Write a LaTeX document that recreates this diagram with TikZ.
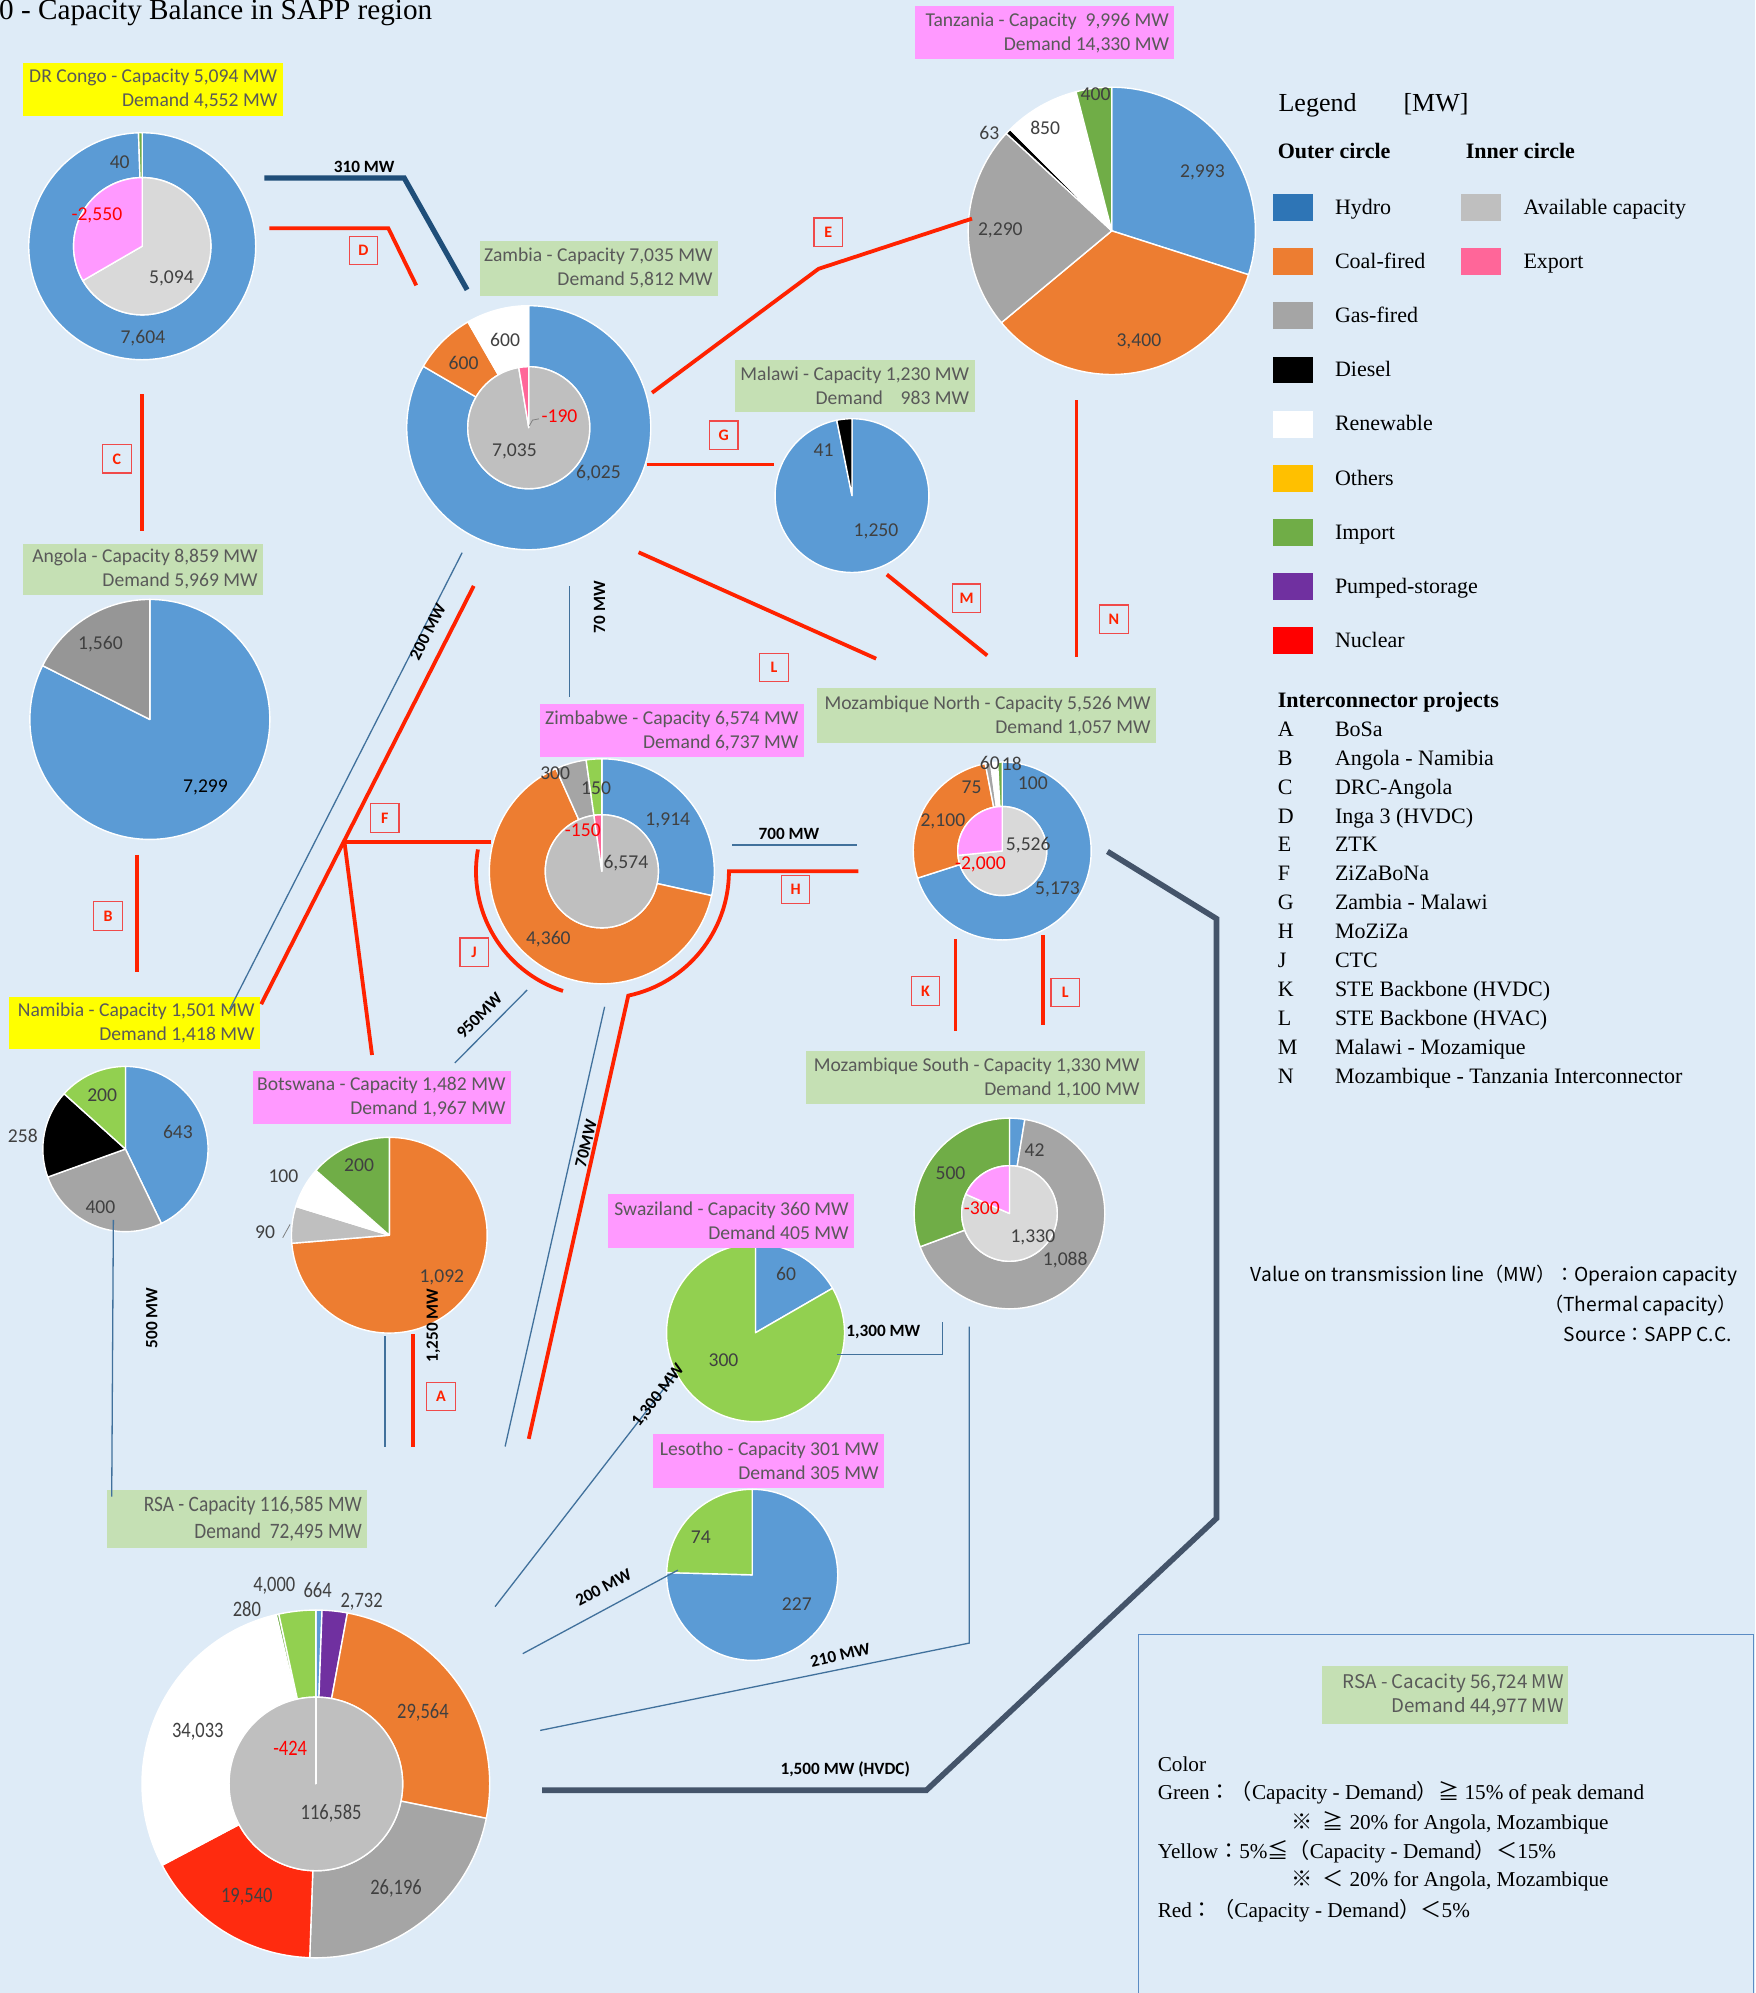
\documentclass[tikz,border=0pt]{standalone}
\usepackage{fontspec}
\setmainfont{Liberation Serif}
\newfontfamily\calib{Carlito}
\newfontfamily\jpf{Noto Sans CJK JP}

\definecolor{bg}{HTML}{DEEBF7}
\definecolor{hydro}{HTML}{5B9BD5}
\definecolor{hydroleg}{HTML}{2E75B6}
\definecolor{coal}{HTML}{ED7D31}
\definecolor{gas}{HTML}{A5A5A5}
\definecolor{gasdark}{HTML}{969696}
\definecolor{avail}{HTML}{BFBFBF}
\definecolor{availlt}{HTML}{D9D9D9}
\definecolor{impdk}{HTML}{70AD47}
\definecolor{implt}{HTML}{92D050}
\definecolor{pumped}{HTML}{7030A0}
\definecolor{nuclear}{HTML}{FF2B0F}
\definecolor{nucleg}{HTML}{FF0000}
\definecolor{others}{HTML}{FFC000}
\definecolor{exppink}{HTML}{FF6699}
\definecolor{expmag}{HTML}{FF99FF}
\definecolor{boxgreen}{HTML}{C5E0B4}
\definecolor{boxpink}{HTML}{FF99FF}
\definecolor{boxyellow}{HTML}{FFFF00}
\definecolor{txtgray}{HTML}{595959}
\definecolor{numgray}{HTML}{404040}
\definecolor{negred}{HTML}{FF0000}
\definecolor{proj}{HTML}{FF2200}
\definecolor{pboxred}{HTML}{F04A4A}
\definecolor{navy}{HTML}{1F4E79}
\definecolor{hvdc}{HTML}{44546A}
\definecolor{thinblue}{HTML}{41719C}
\definecolor{frameblue}{HTML}{5B8BC4}

% ring sector: inner radius, outer radius, start, end (degrees clockwise from 12 o'clock), colour
\newcommand\ringseg[5]{%
  \fill[#5,draw=white,line width=0.7pt,line join=round]
    ({#3-90}:#1) -- ({#3-90}:#2) arc[start angle={#3-90}, end angle={#4-90}, radius=#2]
    -- ({#4-90}:#1) arc[start angle={#4-90}, end angle={#3-90}, radius=#1] -- cycle;}
% pie sector: radius, start, end, colour
\newcommand\pieseg[4]{%
  \fill[#4,draw=white,line width=0.7pt,line join=round]
    (0,0) -- ({#2-90}:#1) arc[start angle={#2-90}, end angle={#3-90}, radius=#1] -- cycle;}
% country caption: name, x1, y1, x2, y2, fill, line 1, line 2 (text set flush right)
\newcommand\cbox[8]{%
  \fill[#6] (#2,#3) rectangle (#4,#5);
  \node[cboxsty] (#1) at ({#4-4},{(#3+#5)/2}) {#7\\#8};}

\begin{document}
\begin{tikzpicture}[x=0.6354pt, y=-0.6354pt,
  num/.style={font=\calib\fontsize{9.8}{10}\selectfont, text=numgray, inner sep=0pt},
  negnum/.style={num, text=negred},
  rnum/.style={font=\calib\fontsize{11}{11}\selectfont, text=numgray, inner sep=0pt, xscale=0.84},
  mw/.style={font=\calib\bfseries\fontsize{8.6}{9}\selectfont, inner sep=0pt},
  pbox/.style={draw=pboxred, line width=0.6pt, text=proj, font=\calib\bfseries\fontsize{8}{8}\selectfont, minimum width=14.2pt, minimum height=14.2pt, inner sep=0pt},
  projline/.style={draw=proj, line width=1.9pt},
  thinline/.style={draw=thinblue, line width=0.65pt},
  hvdcline/.style={draw=hvdc, line width=2.8pt},
  navyline/.style={draw=navy, line width=2.6pt},
  cboxsty/.style={anchor=east, align=right, inner sep=0pt, font=\calib\fontsize{9.8}{12}\selectfont, text=txtgray},
  legtxt/.style={font=\fontsize{11}{13}\selectfont, inner sep=0pt, anchor=base west},
  cnote/.style={font=\fontsize{10.6}{13}\selectfont, inner sep=0pt, anchor=base west},
  vnote/.style={font=\jpf\fontsize{9.6}{12}\selectfont, inner sep=0pt},
]
\useasboundingbox (0,0) rectangle (1381,1568);
\fill[bg] (0,0) rectangle (1381,1568);

% ---------- title ----------
\node[font=\fontsize{14.6}{16}\selectfont, inner sep=0pt, anchor=base west] (title) at (-1,15.5) {0 - Capacity Balance in SAPP region};

% ---------- pie and donut charts ----------
\coordinate (drc) at (111.9,193.7);
\begin{scope}[shift={(drc)}]
  \ringseg{54}{89.3}{0}{358.12}{hydro}
  \ringseg{54}{89.3}{358.12}{360}{impdk}
  \pieseg{54}{0}{239.91}{availlt}
  \pieseg{54}{239.91}{360}{expmag}
\end{scope}

\coordinate (zam) at (416,336.5);
\begin{scope}[shift={(zam)}]
  \ringseg{48}{96}{0}{300.21}{hydro}
  \ringseg{48}{96}{300.21}{330.11}{coal}
  \ringseg{48}{96}{330.11}{360}{white}
  \pieseg{48}{0}{350.53}{avail}
  \pieseg{48}{350.53}{360}{exppink}
\end{scope}

\coordinate (tan) at (874.7,181.6);
\begin{scope}[shift={(tan)}]
  \pieseg{113}{0}{107.79}{hydro}
  \pieseg{113}{107.79}{230.24}{coal}
  \pieseg{113}{230.24}{312.71}{gas}
  \pieseg{113}{312.71}{314.98}{black}
  \pieseg{113}{314.98}{345.59}{white}
  \pieseg{113}{345.59}{360}{impdk}
\end{scope}

\coordinate (mal) at (670.3,389.9);
\begin{scope}[shift={(mal)}]
  \pieseg{60.5}{0}{348.57}{hydro}
  \pieseg{60.5}{348.57}{360}{black}
\end{scope}

\coordinate (ang) at (117.9,566);
\begin{scope}[shift={(ang)}]
  \pieseg{94.4}{0}{296.61}{hydro}
  \pieseg{94.4}{296.61}{360}{gasdark}
\end{scope}

\coordinate (nam) at (98.7,904);
\begin{scope}[shift={(nam)}]
  \pieseg{65}{0}{154.22}{hydro}
  \pieseg{65}{154.22}{250.16}{gas}
  \pieseg{65}{250.16}{312.04}{black}
  \pieseg{65}{312.04}{360}{implt}
\end{scope}

\coordinate (bot) at (306.3,971.8);
\begin{scope}[shift={(bot)}]
  \pieseg{77}{0}{265.26}{coal}
  \pieseg{77}{265.26}{287.12}{avail}
  \pieseg{77}{287.12}{311.42}{white}
  \pieseg{77}{311.42}{360}{impdk}
\end{scope}

\coordinate (zim) at (473.5,685.5);
\begin{scope}[shift={(zim)}]
  \ringseg{44.5}{88.5}{0}{102.48}{hydro}
  \ringseg{44.5}{88.5}{102.48}{335.91}{coal}
  \ringseg{44.5}{88.5}{335.91}{351.97}{gas}
  \ringseg{44.5}{88.5}{351.97}{360}{implt}
  \pieseg{44.5}{0}{351.97}{avail}
  \pieseg{44.5}{351.97}{360}{exppink}
\end{scope}

\coordinate (mzn) at (788.5,669.5);
\begin{scope}[shift={(mzn)}]
  \ringseg{35}{70}{0}{252.23}{hydro}
  \ringseg{35}{70}{252.23}{349}{coal}
  \ringseg{35}{70}{349}{352.5}{gas}
  \ringseg{35}{70}{352.5}{357}{white}
  \ringseg{35}{70}{357}{360}{impdk}
  \pieseg{35}{0}{264.33}{availlt}
  \pieseg{35}{264.33}{360}{expmag}
\end{scope}

\coordinate (mzs) at (794.2,954.7);
\begin{scope}[shift={(mzs)}]
  \ringseg{37.6}{75}{0}{9.28}{hydro}
  \ringseg{37.6}{75}{9.28}{249.57}{gas}
  \ringseg{37.6}{75}{249.57}{360}{impdk}
  \pieseg{37.6}{0}{293.74}{availlt}
  \pieseg{37.6}{293.74}{360}{expmag}
\end{scope}

\coordinate (swa) at (594.4,1048.5);
\begin{scope}[shift={(swa)}]
  \pieseg{70}{0}{60}{hydro}
  \pieseg{70}{60}{360}{implt}
\end{scope}

\coordinate (les) at (591.8,1239);
\begin{scope}[shift={(les)}]
  \pieseg{67.3}{0}{271.5}{hydro}
  \pieseg{67.3}{271.5}{360}{implt}
\end{scope}

\coordinate (rsa) at (248.5,1403.5);
\begin{scope}[shift={(rsa)}]
  \ringseg{68.3}{136.8}{0}{2.04}{hydro}
  \ringseg{68.3}{136.8}{2.04}{10.45}{pumped}
  \ringseg{68.3}{136.8}{10.45}{101.41}{coal}
  \ringseg{68.3}{136.8}{101.41}{182.01}{gas}
  \ringseg{68.3}{136.8}{182.01}{242.13}{nuclear}
  \ringseg{68.3}{136.8}{242.13}{346.84}{white}
  \ringseg{68.3}{136.8}{346.84}{347.7}{impdk}
  \ringseg{68.3}{136.8}{347.7}{360}{implt}
  \pieseg{68.3}{0}{360}{avail}
  \draw[white, line width=0.9pt] (0,0) -- (-90:68.3);
\end{scope}

% ---------- country captions ----------
\cbox{cdrc}{18.3}{49.7}{222.4}{91}{boxyellow}{DR Congo - Capacity 5,094 MW}{Demand 4,552 MW}
\cbox{czam}{377.5}{189.7}{565}{232.5}{boxgreen}{Zambia - Capacity 7,035 MW}{Demand 5,812 MW}
\cbox{ctan}{720}{5}{924}{46.7}{boxpink}{Tanzania - Capacity\ \ 9,996 MW}{Demand 14,330 MW}
\cbox{cmal}{578.4}{283.4}{766.8}{324.3}{boxgreen}{Malawi - Capacity 1,230 MW}{Demand\ \ \ \ 983 MW}
\cbox{cang}{18}{428}{207}{468}{boxgreen}{Angola - Capacity 8,859 MW}{Demand 5,969 MW}
\cbox{czim}{424.6}{554}{632.4}{595.4}{boxpink}{Zimbabwe - Capacity 6,574 MW}{Demand 6,737 MW}
\cbox{cmzn}{643}{541.2}{909.5}{584.6}{boxgreen}{Mozambique North - Capacity 5,526 MW}{Demand 1,057 MW}
\cbox{cnam}{6.8}{784}{204.6}{825.5}{boxyellow}{Namibia - Capacity 1,501 MW}{Demand 1,418 MW}
\cbox{cbot}{198.8}{842.3}{402}{884.5}{boxpink}{Botswana - Capacity 1,482 MW}{Demand 1,967 MW}
\cbox{cmzs}{634.3}{826.9}{900.8}{868.5}{boxgreen}{Mozambique South - Capacity 1,330 MW}{Demand 1,100 MW}
\cbox{cswa}{478.4}{939.2}{672}{981.7}{boxpink}{Swaziland - Capacity 360 MW}{Demand 405 MW}
\cbox{cles}{513.9}{1128.4}{695.6}{1170.5}{boxpink}{Lesotho - Capacity 301 MW}{Demand 305 MW}
\fill[boxgreen] (84.5,1172.5) rectangle (288.5,1218.2);
\node[cboxsty, font=\calib\fontsize{11}{13.5}\selectfont, xscale=0.88] (crsa) at (285,1195.3) {RSA - Capacity 116,585 MW\\Demand\ \ 72,495 MW};

% ---------- interconnector projects (red) ----------
\draw[projline] (212,179.5) -- (305.5,179.5) -- (327.5,224.5);
\draw[projline] (111.7,310) -- (111.7,418);
\draw[projline] (107.5,672.5) -- (107.5,765);
\draw[projline] (372.7,461) -- (205.5,790);
\coordinate (fjoin) at (271,662.4);
\draw[projline] (fjoin) -- (386.2,662.4);
\draw[projline] (fjoin) -- (292.7,830);
\draw[projline] (513,309) -- (644,211.5) -- (764.7,172);
\draw[projline] (508.8,365.4) -- (609,365.4);
\draw[projline] (502.4,434.5) -- (689.3,518.2);
\draw[projline] (697.7,452) -- (776.7,515.7);
\draw[projline] (847,315) -- (847,516.5);
\draw[projline] (675.3,685.5) -- ([shift={(0:100)}]zim) arc[start angle=0, end angle=78, radius=100] -- (416,1132);
\draw[projline] ([shift={(190:99)}]zim) arc[start angle=190, end angle=108, radius=99];
\draw[projline] (751.7,738.8) -- (751.7,811.5);
\draw[projline] (820.4,735.8) -- (820.4,806.4);
\draw[projline] (324.7,1049.6) -- (324.7,1138.2);

% ---------- existing lines ----------
\draw[navyline] (208,140) -- (318,140) -- (367.5,228);
\draw[thinline] (447.8,461) -- (447.8,548);
\draw[thinline] (363.6,434.8) -- (180.7,794);
\draw[thinline] (576,664.9) -- (674,664.9);
\draw[thinline] (414.7,778.9) -- (357.8,836.3);
\draw[thinline] (475.7,792.1) -- (397.4,1138);
\draw[thinline] (89.2,959.7) -- (87.9,1177.5);
\draw[thinline] (303,1051) -- (303,1138.2);
\draw[thinline] (389.5,1264) -- (532,1080);
\draw[thinline] (658.4,1065.9) -- (741.5,1065.9) -- (741.5,1040.2);
\draw[thinline] (411.3,1301) -- (533.3,1235.3);
\draw[thinline] (762.5,1043.8) -- (762.5,1292.7) -- (425,1361.4);
\draw[hvdcline] (871.3,669.9) -- (957.1,722.8) -- (957.1,1194.5) -- (728.8,1408.5) -- (426.6,1408.5);

% ---------- project letters ----------
\node[pbox] (pC) at (92,361) {C};
\node[pbox] (pD) at (286,197) {D};
\node[pbox] (pB) at (85,720.6) {B};
\node[pbox] (pE) at (651.6,182.7) {E};
\node[pbox] (pG) at (569.4,342.4) {G};
\node[pbox] (pL1) at (609,525) {L};
\node[pbox] (pM) at (760.5,470.6) {M};
\node[pbox] (pN) at (876.4,487.2) {N};
\node[pbox] (pF) at (302.7,643.6) {F};
\node[pbox] (pJ) at (373,749.2) {J};
\node[pbox] (pH) at (626,699.8) {H};
\node[pbox] (pK) at (728.2,779.7) {K};
\node[pbox] (pL2) at (838.1,780.8) {L};
\node[pbox] (pA) at (347,1098.8) {A};

% ---------- line ratings ----------
\node[mw] (r310) at (286.5,131) {310 MW};
\node[mw, rotate=90] (r70a) at (471.7,477.8) {70 MW};
\node[mw, rotate=63] (r200a) at (336.5,497) {200 MW};
\node[mw] (r700) at (620.7,655.7) {700 MW};
\node[mw, rotate=45] (r950) at (377.2,799) {950MW};
\node[mw, rotate=76] (r70b) at (461,899.7) {70MW};
\node[mw, rotate=90] (r500) at (119.4,1037) {500 MW};
\node[mw, rotate=90] (r1250) at (341,1042.7) {1,250 MW};
\node[mw, rotate=52] (r1300a) at (518,1098) {1,300 MW};
\node[mw] (r1300b) at (695,1047.7) {1,300 MW};
\node[mw, rotate=28] (r200b) at (474.8,1248.6) {200 MW};
\node[mw, rotate=13] (r210) at (661,1302.4) {210 MW};
\node[mw] (r1500) at (665,1392) {1,500 MW (HVDC)};

% ---------- slice values ----------
\node[num] (v1) at (94.2,128) {40};
\node[negnum] (v2) at (76.2,169.6) {-2,550};
\node[num] (v3) at (134.9,218.9) {5,094};
\node[num] (v4) at (112.4,265.9) {7,604};

\node[num] (v5) at (397.4,267.4) {600};
\node[num] (v6) at (364.7,285.5) {600};
\draw[gray, line width=0.4pt] (416.5,335) -- (419,330.5) -- (424,329.5);
\node[negnum] (v7) at (440.2,327.4) {-190};
\node[num] (v8) at (404.7,355.4) {7,035};
\node[num] (v9) at (470.8,372.5) {6,025};

\node[num] (v10) at (862,73.8) {400};
\node[num] (v11) at (822.3,100.8) {850};
\node[num] (v12) at (778.4,104.3) {63};
\node[num] (v13) at (946,135.3) {2,993};
\node[num] (v14) at (787,181.6) {2,290};
\node[num] (v15) at (896,268.7) {3,400};

\node[num] (v16) at (647.9,353.8) {41};
\node[num] (v17) at (689.2,418) {1,250};

\node[num] (v18) at (79,507) {1,560};
\node[num, text=black] (v19) at (161.7,619.5) {7,299};

\node[num] (v20) at (80.4,861.7) {200};
\node[num] (v21) at (18,893.7) {258};
\node[num] (v22) at (140,890.5) {643};
\node[num] (v23) at (79,950) {400};

\node[num] (v24) at (282.5,917) {200};
\node[num] (v25) at (223,925.4) {100};
\node[num] (v26) at (208.5,969.5) {90};
\draw[gray, line width=0.4pt] (222.4,973.8) -- (228.2,963.3);
\node[num] (v27) at (347.6,1004.7) {1,092};

\node[num] (v28) at (436.8,608.3) {300};
\node[num] (v29) at (469,620.3) {150};
\node[num] (v30) at (525.4,645.6) {1,914};
\node[negnum] (v31) at (458.5,652.8) {-150};
\node[num] (v32) at (492.4,679) {6,574};
\node[num] (v33) at (431.4,738.7) {4,360};

\node[num] (v34) at (778.8,600) {60};
\node[num] (v35) at (796,600.7) {18};
\node[num] (v36) at (812.6,616) {100};
\node[num] (v37) at (764.4,619.7) {75};
\node[num] (v38) at (741.8,646) {2,100};
\node[num] (v39) at (809,664.8) {5,526};
\node[negnum] (v40) at (771.3,680) {-2,000};
\node[num] (v41) at (832,700) {5,173};

\node[num] (v42) at (814,904.6) {42};
\node[num] (v43) at (747.8,923.4) {500};
\node[negnum] (v44) at (772.5,950.4) {-300};
\node[num] (v45) at (812.6,973.5) {1,330};
\node[num] (v46) at (838.1,991.7) {1,088};

\node[num] (v47) at (618.5,1002.4) {60};
\node[num] (v48) at (569.2,1070.5) {300};
\node[num] (v49) at (551.4,1209.4) {74};
\node[num] (v50) at (626.9,1262.4) {227};

\node[rnum] (v51) at (215.8,1247.5) {4,000};
\node[rnum] (v52) at (249.9,1251.1) {664};
\node[rnum] (v53) at (284.5,1260) {2,732};
\node[rnum] (v54) at (194.2,1266.3) {280};
\node[rnum] (v55) at (332.7,1347.2) {29,564};
\node[rnum] (v56) at (155.6,1362.7) {34,033};
\node[rnum, text=negred] (v57) at (228.3,1375.5) {-424};
\node[rnum] (v58) at (260.5,1427) {116,585};
\node[rnum] (v59) at (311.6,1485.6) {26,196};
\node[rnum] (v60) at (194.2,1492.1) {19,540};

% ---------- legend ----------
\node[font=\fontsize{13}{15}\selectfont, inner sep=0pt, anchor=base west] (legT) at (1005.6,88) {Legend};
\node[font=\fontsize{13}{15}\selectfont, inner sep=0pt, anchor=base west] (legU) at (1103.9,88) {[MW]};
\node[legtxt, font=\fontsize{11}{13}\selectfont\bfseries] (legO) at (1005,125) {Outer circle};
\node[legtxt, font=\fontsize{11}{13}\selectfont\bfseries] (legI) at (1153,125) {Inner circle};
\foreach \c/\t [count=\i] in {hydroleg/Hydro, coal/Coal-fired, gas/Gas-fired, black/Diesel, white/Renewable, others/Others, impdk/Import, pumped/Pumped-storage, nucleg/Nuclear}{
  \pgfmathsetmacro\ry{163.2+(\i-1)*42.63}
  \fill[\c] (1001.7,\ry-10.6) rectangle (1032.9,\ry+10.6);
  \node[legtxt] (lego\i) at (1050,\ry+5.3) {\t};
}
\fill[avail] (1149.6,152.6) rectangle (1181,173.8);
\node[legtxt] (legi1) at (1198.3,168.5) {Available capacity};
\fill[exppink] (1149.6,195.2) rectangle (1181,216.4);
\node[legtxt] (legi2) at (1198.3,211.1) {Export};

\node[legtxt, font=\fontsize{11}{13}\selectfont\bfseries] (legP) at (1005,556.5) {Interconnector projects};
\foreach \k/\t [count=\i] in {A/BoSa, B/Angola - Namibia, C/DRC-Angola, D/Inga 3 (HVDC), E/ZTK, F/ZiZaBoNa, G/Zambia - Malawi, H/MoZiZa, J/CTC, K/STE Backbone (HVDC), L/STE Backbone (HVAC), M/Malawi - Mozamique, N/Mozambique - Tanzania Interconnector}{
  \pgfmathsetmacro\ry{574+(\i-1)*22.74}
  \node[legtxt] (pk\i) at (1005,\ry+5.3) {\k};
  \node[legtxt] (pn\i) at (1050,\ry+5.3) {\t};
}

% ---------- notes ----------
\node[vnote, anchor=base east] (n1) at (1367,1008.5) {Value on transmission line（MW）：Operaion capacity};
\node[vnote, anchor=base east] (n2) at (1367,1031.5) {（Thermal capacity）};
\node[vnote, anchor=base west] (n3) at (1230,1055.5) {Source：SAPP C.C.};

% ---------- colour criteria frame ----------
\draw[frameblue, line width=0.6pt] (895.8,1575) -- (895.8,1285.8) -- (1379.6,1285.8) -- (1379.6,1575);
\fill[boxgreen] (1040,1311) rectangle (1234,1356);
\node[cboxsty, font=\jpf\fontsize{9.4}{12}\selectfont] (crsa2) at (1230.5,1333.5) {RSA - Cacacity 56,724 MW\\Demand 44,977 MW};
\node[cnote] (k0) at (910.6,1394) {Color};
\node[cnote] (k1) at (910.6,1416) {Green{\jpf ：（}Capacity - Demand{\jpf ）≧} 15\% of peak demand};
\node[cnote] (k2) at (1016,1439.5) {{\jpf ※}\hspace{5pt}{\jpf ≧} 20\% for Angola, Mozambique};
\node[cnote] (k3) at (910.6,1462) {Yellow{\jpf ：}5\%{\jpf ≦（}Capacity - Demand{\jpf ）＜}15\%};
\node[cnote] (k4) at (1016,1484.5) {{\jpf ※}\hspace{5pt}{\jpf ＜} 20\% for Angola, Mozambique};
\node[cnote] (k5) at (910.6,1508.5) {Red{\jpf ：（}Capacity - Demand{\jpf ）＜}5\%};
\end{tikzpicture}
\end{document}
